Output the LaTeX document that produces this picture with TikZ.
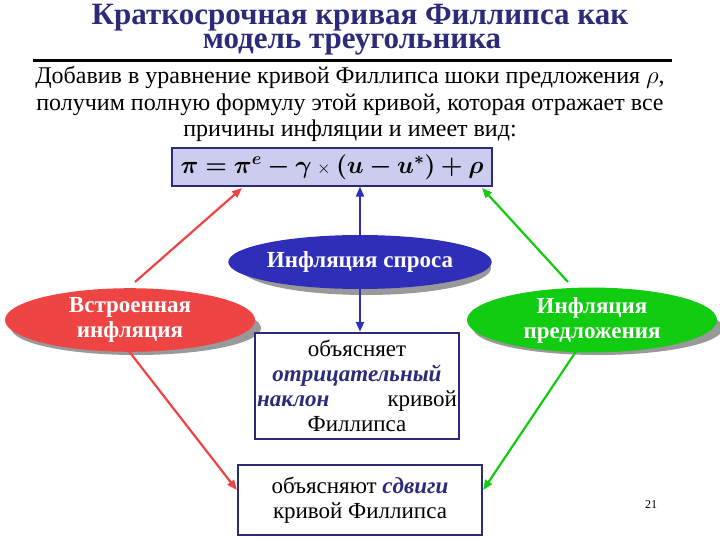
\documentclass[tikz,border=0pt]{standalone}
\usepackage{amsmath,bm}
\usepackage{fontspec}
\setmainfont{Liberation Serif}
\usetikzlibrary{arrows.meta,shapes.geometric}
\definecolor{tblue}{HTML}{2B2B7A}
\definecolor{lav}{HTML}{CCCCEE}
\definecolor{bel}{HTML}{2E2EB8}
\definecolor{rel}{HTML}{EE4444}
\definecolor{gel}{HTML}{11CC11}
\begin{document}
\begin{tikzpicture}[x=1pt,y=-1pt,
 ell/.style={ellipse,minimum width=250pt,minimum height=54pt,text=white,font=\fontsize{23}{25}\selectfont\bfseries,align=center,inner sep=0pt},
 shad/.style={ellipse,minimum width=250pt,minimum height=54pt,fill=gray!80},
 txtbox/.style={draw=tblue,line width=2.4pt,fill=white,align=center,font=\fontsize{23}{25}\selectfont},
 arr/.style={line width=2.2pt,-{Triangle[length=10pt,width=8pt]}}]
\useasboundingbox (0,0) rectangle (720,540);
\node[font=\fontsize{31}{31}\selectfont\bfseries,text=tblue] (t1) at (360,18) {Краткосрочная кривая Филлипса как};
\node[font=\fontsize{31}{31}\selectfont\bfseries,text=tblue] (t2) at (352,45) {модель треугольника};
\draw[line width=3pt] (33,61) coordinate (r1) -- (672,61) coordinate (r2);
\node[font=\fontsize{24}{26.5}\selectfont,align=center] (p) at (350,104) {Добавив в уравнение кривой Филлипса шоки предложения $\rho$,\\получим полную формулу этой кривой, которая отражает все\\причины инфляции и имеет вид:};
\node[draw=tblue,line width=1.2pt,fill=lav,minimum width=320pt,minimum height=38pt,font=\fontsize{26}{26}\selectfont] (f) at (332,167)
 {$\bm{\pi = \pi^{e} - \gamma} \mathbin{\scriptstyle\times} \bm{(u - u^{*}) + \rho}$};
\node[shad] (bs) at (366,268) {};
\node[shad] (rs) at (136,328) {};
\node[shad] (gs) at (598,328) {};
\node[ell,fill=bel] (be) at (360,262) {Инфляция спроса};
\node[ell,fill=rel] (re) at (130,320) {Встроенная\\инфляция};
\node[ell,fill=gel] (ge) at (592,320) {Инфляция\\предложения};
\node[txtbox,text width=200pt,minimum height=106pt,inner sep=2pt] (b1) at (357,386)
 {объясняет\\{\color{tblue}\bfseries\itshape отрицательный}\\{\color{tblue}\bfseries\itshape наклон}\hfill кривой\\Филлипса};
\node[txtbox,minimum width=244pt,minimum height=70pt] (b2) at (360,500)
 {объясняют {\color{tblue}\bfseries\itshape сдвиги}\\кривой Филлипса};
\node[font=\fontsize{12}{12}\selectfont] (pg) at (651,505) {21};
\draw[arr,bel] (be.north) -- (f.south -| be.north);
\draw[arr,bel] (be.south) -- (b1.north -| be.south);
\draw[arr,rel] (135,282) -- (242,188);
\draw[arr,gel] (568,282) -- (482,188);
\draw[arr,rel] (128,350) -- (b2.west |- 0,490);
\draw[arr,gel] (577,350) -- (b2.east |- 0,490);
\end{tikzpicture}
\end{document}
